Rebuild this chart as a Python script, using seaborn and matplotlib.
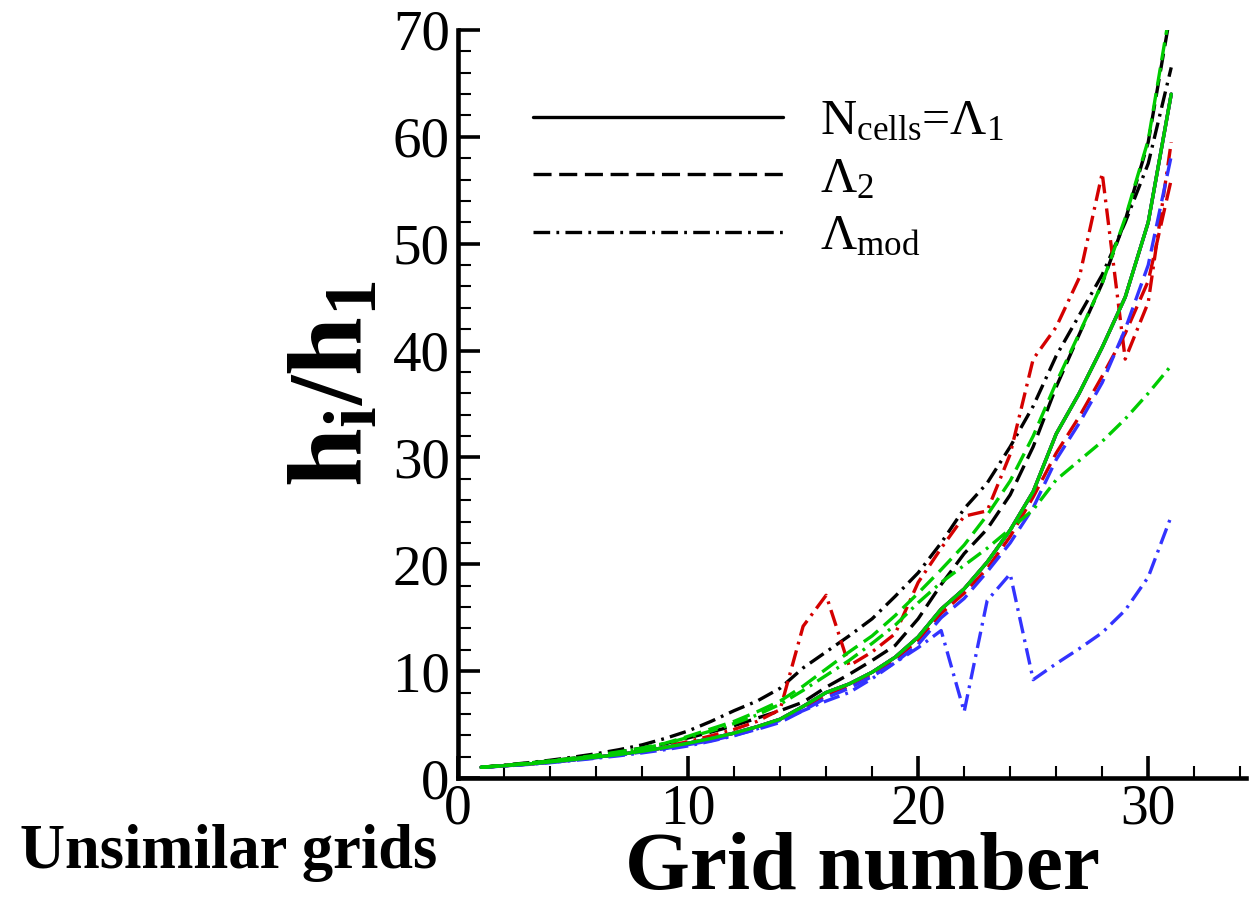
import numpy as np
import pandas as pd
import matplotlib
matplotlib.use("Agg")
import matplotlib.pyplot as plt
import seaborn as sns
from matplotlib.ticker import MultipleLocator
from matplotlib.lines import Line2D

grid = list(range(1, 32))

solid_all = [1.0, 1.15, 1.3, 1.5, 1.72, 1.95, 2.2, 2.5, 2.85, 3.25, 3.7, 4.2, 4.8, 5.5, 6.7,
             8.0, 8.8, 9.9, 11.3, 13.2, 15.8, 17.7, 20.2, 23.2, 26.8, 32.2, 36.0, 40.3, 45.0, 52.0, 64.0]
black_dashed = [1.0, 1.18, 1.38, 1.6, 1.85, 2.12, 2.45, 2.8, 3.2, 3.75, 4.3, 4.9, 5.6, 6.3, 7.1,
                8.5, 9.7, 11.0, 12.4, 14.9, 18.1, 21.0, 23.3, 26.5, 31.0, 36.6, 41.5, 46.3, 52.2, 59.5, 72.0]
black_dashdot = [1.0, 1.2, 1.42, 1.66, 1.95, 2.27, 2.65, 3.1, 3.7, 4.4, 5.3, 6.3, 7.2, 8.4, 10.3,
                 11.8, 13.3, 14.9, 17.0, 19.2, 22.0, 25.2, 27.6, 31.0, 34.8, 39.5, 43.3, 47.1, 52.0, 57.5, 66.5]
green_dashed = [1.0, 1.18, 1.38, 1.6, 1.85, 2.12, 2.45, 2.8, 3.25, 3.9, 4.6, 5.3, 6.2, 7.2, 8.6,
                10.2, 11.8, 13.3, 15.2, 17.3, 19.5, 21.8, 24.6, 27.8, 32.0, 37.0, 41.6, 46.3, 52.4, 59.7, 72.5]
green_dashdot = [1.0, 1.17, 1.36, 1.58, 1.82, 2.08, 2.4, 2.75, 3.2, 3.8, 4.4, 5.1, 5.9, 6.9, 8.2,
                 9.6, 11.0, 12.6, 14.3, 16.4, 18.3, 19.9, 21.5, 23.3, 25.1, 27.9, 29.7, 31.5, 33.6, 36.0, 38.6]
red_dashed = [1.0, 1.14, 1.29, 1.48, 1.7, 1.93, 2.18, 2.47, 2.8, 3.2, 3.6, 4.1, 4.7, 5.4, 6.5,
              7.7, 8.6, 9.7, 11.1, 12.9, 15.4, 17.3, 19.6, 22.6, 26.3, 30.4, 33.8, 37.6, 41.6, 46.5, 56.0]
red_dashdot = [1.0, 1.15, 1.32, 1.52, 1.75, 2.0, 2.27, 2.58, 2.95, 3.4, 3.95, 4.55, 5.3, 6.4, 14.2,
               17.1, 10.5, 11.8, 13.5, 18.3, 21.5, 24.5, 25.0, 30.3, 39.2, 42.2, 46.8, 56.6, 39.2, 44.5, 59.5]
blue_dashed = [1.0, 1.13, 1.28, 1.46, 1.67, 1.9, 2.15, 2.43, 2.75, 3.12, 3.5, 4.0, 4.55, 5.2, 6.3,
               7.5, 8.4, 9.5, 10.8, 12.5, 15.0, 16.8, 19.3, 22.0, 25.3, 29.8, 33.2, 37.0, 42.0, 48.0, 58.2]
blue_dashdot = [1.0, 1.12, 1.26, 1.43, 1.63, 1.85, 2.08, 2.35, 2.65, 3.0, 3.45, 3.95, 4.6, 5.4, 6.3,
                7.2, 8.0, 9.3, 10.8, 12.2, 13.8, 6.2, 16.6, 19.1, 9.2, 10.7, 12.1, 13.6, 15.7, 18.8, 24.5]

legend_labels = [r"N$_{\mathrm{cells}}$=Λ$_1$", r"Λ$_2$", r"Λ$_{\mathrm{mod}}$"]
xlabel_text = "Grid number"
ylabel_text = r"$\mathbf{h_i/h_1}$"
note_text = "Unsimilar grids"

sns.set_style("ticks", rc={"axes.edgecolor": "black", "text.color": "black",
                           "axes.labelcolor": "black", "xtick.color": "black",
                           "ytick.color": "black"})
plt.rcParams["font.family"] = ["Liberation Serif", "DejaVu Serif"]
plt.rcParams["mathtext.fontset"] = "custom"
plt.rcParams["mathtext.rm"] = "Liberation Serif"
plt.rcParams["mathtext.it"] = "Liberation Serif:italic"
plt.rcParams["mathtext.bf"] = "Liberation Serif:bold"
plt.rcParams["lines.scale_dashes"] = False

BLACK = "#000000"
GREEN = "#00cc00"
RED = "#d40000"
BLUE = "#3333ff"
SOLID = "-"
DASH = (0, (13, 5.5))
DASHDOT = (0, (12, 4.5, 2, 4.5))

fig = plt.figure(figsize=(12.49, 9.05), dpi=100)
ax = fig.add_axes([458 / 1249, 1 - 778 / 905, (1246 - 458) / 1249, (778 - 30) / 905])

series = [
    (solid_all, BLACK, SOLID), (black_dashed, BLACK, DASH), (black_dashdot, BLACK, DASHDOT),
    (solid_all, RED, SOLID), (red_dashed, RED, DASH), (red_dashdot, RED, DASHDOT),
    (solid_all, BLUE, SOLID), (blue_dashed, BLUE, DASH), (blue_dashdot, BLUE, DASHDOT),
    (green_dashed, GREEN, DASH), (green_dashdot, GREEN, DASHDOT), (solid_all, GREEN, SOLID),
]
lw = 2.4
for vals, col, ls in series:
    df = pd.DataFrame({"grid": grid, "ratio": vals})
    sns.lineplot(data=df, x="grid", y="ratio", ax=ax, color=col, linestyle=ls,
                 linewidth=lw, estimator=None, sort=False, legend=False)

ax.set_xlim(0, 34.25)
ax.set_ylim(0, 70)
sns.despine(ax=ax)
for s in ["left", "bottom"]:
    ax.spines[s].set_linewidth(3.3)
    ax.spines[s].set_color("black")
ax.xaxis.set_major_locator(MultipleLocator(10))
ax.xaxis.set_minor_locator(MultipleLocator(2))
ax.yaxis.set_major_locator(MultipleLocator(10))
ax.yaxis.set_minor_locator(MultipleLocator(2))
ax.tick_params(which="major", direction="in", length=16, width=2.6, labelsize=41, pad=6, colors="black")
ax.tick_params(axis="x", which="major", labelsize=40, pad=4)
ax.tick_params(which="minor", direction="in", length=9, width=1.5, colors="black")

ax.set_xlabel(xlabel_text, fontsize=60, fontweight="bold", color="black")
ax.set_ylabel(ylabel_text, fontsize=76, color="black")
ax.xaxis.set_label_coords(0.513, -0.072)
ax.yaxis.set_label_coords(-0.092, 0.527)

handles = [Line2D([], [], color="black", linestyle=ls, linewidth=lw) for ls in [SOLID, DASH, DASHDOT]]
leg = ax.legend(handles, legend_labels, loc="upper left", bbox_to_anchor=((533 - 458) / 788, 0.908),
                frameon=False, fontsize=36, handlelength=5.0, handletextpad=0.75, labelspacing=0.22,
                borderpad=0, borderaxespad=0)
for t in leg.get_texts():
    t.set_color("black")

fig.text(20 / 1249, 1 - 868 / 905, note_text, fontsize=45, fontweight="bold", va="baseline",
         ha="left", color="black")

fig.savefig("out.png", dpi=100)
